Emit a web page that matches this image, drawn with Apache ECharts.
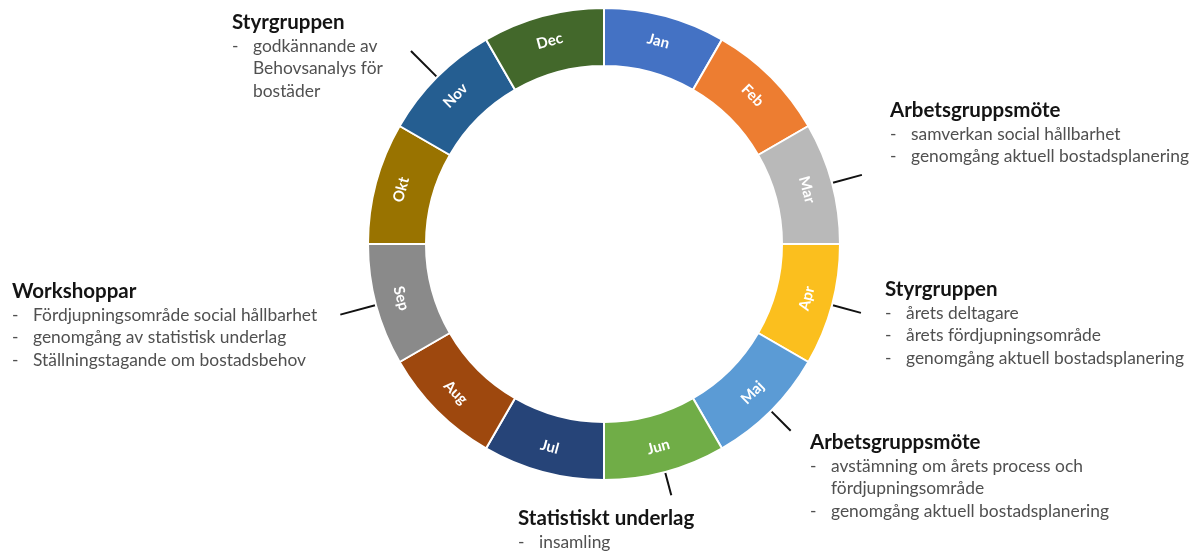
<!DOCTYPE html>
<html>
<head>
<meta charset="utf-8">
<script src="https://cdn.jsdelivr.net/npm/echarts@6/dist/echarts.min.js"></script>
<style>
  html, body { margin: 0; padding: 0; background: #fff; }
  #chart { width: 1195px; height: 552px; }
</style>
</head>
<body>
<div id="chart"></div>
<script>
// årshjulet: tolv lika stora månader
var months = ['Jan', 'Feb', 'Mar', 'Apr', 'Maj', 'Jun', 'Jul', 'Aug', 'Sep', 'Okt', 'Nov', 'Dec'];
var monthShare = [1, 1, 1, 1, 1, 1, 1, 1, 1, 1, 1, 1];
var monthColors = ['#4472C4', '#ED7D31', '#B9B9B9', '#FBBF1E', '#5B9BD5', '#70AD47',
                   '#264478', '#9E480E', '#8A8A8A', '#997300', '#255E91', '#43682B'];

// aktiviteter kopplade till månader
var noteMonths = ['Nov', 'Mar', 'Apr', 'Maj', 'Jun', 'Sep'];
var noteTitles = ['Styrgruppen', 'Arbetsgruppsmöte', 'Styrgruppen', 'Arbetsgruppsmöte', 'Statistiskt underlag', 'Workshoppar'];
var noteBullets = [
    ['godkännande av\nBehovsanalys för\nbostäder'],
    ['samverkan social hållbarhet', 'genomgång aktuell bostadsplanering'],
    ['årets deltagare', 'årets fördjupningsområde', 'genomgång aktuell bostadsplanering'],
    ['avstämning om årets process och\nfördjupningsområde', 'genomgång aktuell bostadsplanering'],
    ['insamling'],
    ['Fördjupningsområde social hållbarhet', 'genomgång av statistisk underlag', 'Ställningstagande om bostadsbehov']
];

// placering av textblocken (vänster, topp) och strecklängd
var notePlace = {
    Nov: { x: 232, y: 9, line: 37 },
    Mar: { x: 890, y: 97, line: 31 },
    Apr: { x: 885, y: 276, line: 30 },
    Maj: { x: 810, y: 429, line: 28 },
    Jun: { x: 518, y: 505, line: 24 },
    Sep: { x: 12, y: 278, line: 37 }
};

var font = 'Lato, "Noto Sans", sans-serif';

function noteText(idx) {
    var out = ['{t|' + noteTitles[idx] + '}'];
    noteBullets[idx].forEach(function (b) {
        b.split('\n').forEach(function (row, k) {
            out.push((k === 0 ? '{d|-}' : '{d| }') + '{b|' + row + '}');
        });
    });
    return out.join('\n');
}

var ringData = months.map(function (m, i) {
    return { name: m, value: monthShare[i], itemStyle: { color: monthColors[i] } };
});

var noteData = months.map(function (m, i) {
    var n = noteMonths.indexOf(m);
    if (n < 0) {
        return { name: m, value: monthShare[i], label: { show: false }, labelLine: { show: false } };
    }
    return {
        name: m,
        value: monthShare[i],
        label: { show: true, formatter: noteText(n) },
        labelLine: { show: true, length: notePlace[m].line, length2: 0 }
    };
});

var chart = echarts.init(document.getElementById('chart'));
chart.setOption({
    backgroundColor: '#ffffff',
    animation: false,
    series: [{
        type: 'pie',
        center: [604, 244],
        radius: [178, 236],
        startAngle: 90,
        clockwise: true,
        silent: true,
        itemStyle: {
            borderColor: '#ffffff',
            borderWidth: 2
        },
        label: {
            show: true,
            position: 'inside',
            rotate: 'tangential',
            formatter: '{b}',
            color: '#ffffff',
            fontFamily: font,
            fontWeight: 'bold',
            fontSize: 15
        },
        labelLine: { show: false },
        data: ringData
    }, {
        type: 'pie',
        center: [604, 244],
        radius: [178, 236],
        startAngle: 90,
        clockwise: true,
        silent: true,
        avoidLabelOverlap: false,
        itemStyle: { color: 'rgba(0,0,0,0)' },
        label: {
            position: 'outside',
            fontFamily: font,
            rich: {
                t: { fontFamily: font, fontSize: 20.5, fontWeight: 'bold', color: '#141414', lineHeight: 26 },
                d: { fontFamily: font, fontSize: 17.4, color: '#505050', width: 21, lineHeight: 22.5 },
                b: { fontFamily: font, fontSize: 17.4, color: '#505050', lineHeight: 22.5 }
            }
        },
        labelLine: {
            lineStyle: { color: '#111111', width: 2 }
        },
        labelLayout: function (p) {
            var place = notePlace[months[p.dataIndex]];
            if (!place) {
                return {};
            }
            return {
                x: place.x,
                y: place.y,
                align: 'left',
                verticalAlign: 'top',
                labelLinePoints: p.labelLinePoints
            };
        },
        data: noteData
    }]
});
</script>
</body>
</html>
